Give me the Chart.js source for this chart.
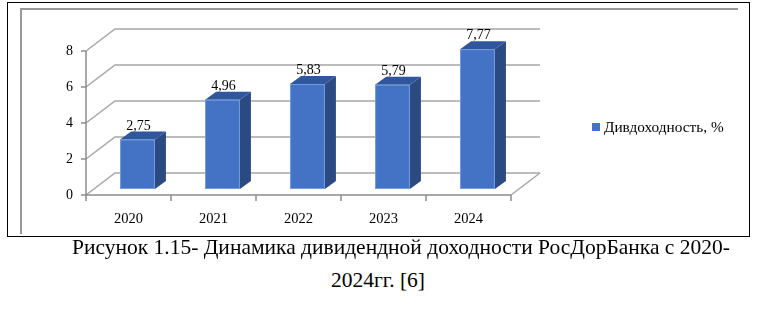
<!DOCTYPE html>
<html>
<head>
<meta charset="utf-8">
<script src="https://cdn.jsdelivr.net/npm/chart.js@4"></script>
<style>
  body { margin: 0; background: #fff; width: 765px; height: 311px; overflow: hidden; position: relative; }
  #outer { position: absolute; left: 7px; top: 2px; width: 743px; height: 235px; border: 1.5px solid #000; box-sizing: border-box; }
  #inner { position: absolute; left: 20px; top: 8px; width: 718px; height: 226px; border-top: 2px solid #999; border-left: 2px solid #999; box-sizing: border-box; }
  #wrap { position: absolute; left: 0; top: 0; width: 765px; height: 240px; }
  .cap { position: absolute; font-family: 'Liberation Serif', serif; font-size: 21.5px; color: #000; white-space: nowrap; line-height: 1; }
</style>
</head>
<body>
<div id="outer"></div>
<div id="inner"></div>
<div id="wrap"><canvas id="chart" width="765" height="240"></canvas></div>
<div class="cap" id="cap1" style="left:72px; top:237px;">Рисунок 1.15- Динамика дивидендной доходности РосДорБанка с 2020-</div>
<div class="cap" id="cap2" style="left:331px; top:270px;">2024гг. [6]</div>
<script>
const years = ['2020', '2021', '2022', '2023', '2024'];
const dividendYield = [2.75, 4.96, 5.83, 5.79, 7.77];
const seriesName = 'Дивдоходность, %';
const yTicks = [0, 2, 4, 6, 8];

// 3d offsets
const WALL_DX = 29, WALL_DY = -22;
const BAR_DX = 9, BAR_DY = -6;
const SIDE_DX = 11, SIDE_DY = -8;
const FONT = "'Liberation Serif', serif";

const fakeThreeD = {
    id: 'fakeThreeD',
    beforeDatasetsDraw(chart) {
        const ctx = chart.ctx;
        const area = chart.chartArea;
        const ys = chart.scales.y;
        const xs = chart.scales.x;
        ctx.save();
        ctx.strokeStyle = '#a6a6a6';
        ctx.lineWidth = 1.5;
        // back wall grid + left diagonals
        yTicks.forEach(v => {
            const y = ys.getPixelForValue(v);
            ctx.beginPath();
            ctx.moveTo(area.left, y);
            ctx.lineTo(area.left + WALL_DX, y + WALL_DY);
            ctx.lineTo(area.right + WALL_DX, y + WALL_DY);
            ctx.stroke();
        });
        // floor right side
        const y0 = ys.getPixelForValue(0);
        ctx.beginPath();
        ctx.moveTo(area.right, y0);
        ctx.lineTo(area.right + WALL_DX, y0 + WALL_DY);
        ctx.stroke();
        // axes
        ctx.strokeStyle = '#8c8c8c';
        ctx.beginPath();
        ctx.moveTo(area.left, ys.getPixelForValue(8));
        ctx.lineTo(area.left, y0);
        ctx.lineTo(area.right, y0);
        ctx.stroke();
        yTicks.forEach(v => {
            const y = ys.getPixelForValue(v);
            ctx.beginPath();
            ctx.moveTo(area.left - 5, y);
            ctx.lineTo(area.left, y);
            ctx.stroke();
        });
        const step = (area.right - area.left) / years.length;
        for (let i = 0; i <= years.length; i++) {
            const x = area.left + i * step;
            ctx.beginPath();
            ctx.moveTo(x, y0);
            ctx.lineTo(x, y0 + 6);
            ctx.stroke();
        }
        // tick labels
        ctx.fillStyle = '#000';
        ctx.font = '14px ' + FONT;
        ctx.textAlign = 'right';
        ctx.textBaseline = 'middle';
        yTicks.forEach(v => ctx.fillText(String(v), area.left - 13, ys.getPixelForValue(v)));
        ctx.textAlign = 'center';
        ctx.font = '14.5px ' + FONT;
        years.forEach((lab, i) => ctx.fillText(lab, xs.getPixelForValue(i), y0 + 24));
        ctx.restore();
    },
    afterDatasetsDraw(chart) {
        const ctx = chart.ctx;
        const meta = chart.getDatasetMeta(0);
        ctx.save();
        meta.data.forEach((bar, i) => {
            const w = bar.width;
            const l = bar.x - w / 2 + BAR_DX;
            const r = l + w;
            const t = bar.y + BAR_DY;
            const b = bar.base + BAR_DY;
            // side
            ctx.fillStyle = '#2b4a82';
            ctx.beginPath();
            ctx.moveTo(r, t);
            ctx.lineTo(r + SIDE_DX, t + SIDE_DY);
            ctx.lineTo(r + SIDE_DX, b + SIDE_DY);
            ctx.lineTo(r, b);
            ctx.closePath();
            ctx.fill();
            // top
            ctx.fillStyle = '#30569b';
            ctx.beginPath();
            ctx.moveTo(l, t);
            ctx.lineTo(l + SIDE_DX, t + SIDE_DY);
            ctx.lineTo(r + SIDE_DX, t + SIDE_DY);
            ctx.lineTo(r, t);
            ctx.closePath();
            ctx.fill();
            // front
            ctx.fillStyle = '#4472c4';
            ctx.fillRect(l, t, w, b - t);
            ctx.strokeStyle = 'rgba(120,160,225,0.9)';
            ctx.lineWidth = 1;
            ctx.strokeRect(l + 0.5, t + 0.5, w - 1, b - t - 1);
            // value label
            ctx.fillStyle = '#000';
            ctx.font = '14px ' + FONT;
            ctx.textAlign = 'center';
            ctx.textBaseline = 'alphabetic';
            ctx.fillText(dividendYield[i].toFixed(2).replace('.', ','), (l + r) / 2 + 1, t + SIDE_DY - 2);
        });
        ctx.restore();
    },
    afterDraw(chart) {
        const ctx = chart.ctx;
        ctx.save();
        ctx.fillStyle = '#4472c4';
        ctx.fillRect(592, 123, 8, 8);
        ctx.fillStyle = '#000';
        ctx.font = '15.3px ' + FONT;
        ctx.textAlign = 'left';
        ctx.textBaseline = 'middle';
        ctx.fillText(seriesName, 604, 128);
        ctx.restore();
    }
};

new Chart(document.getElementById('chart'), {
    type: 'bar',
    data: {
        labels: years,
        datasets: [{
            label: seriesName,
            data: dividendYield,
            backgroundColor: 'rgba(0,0,0,0)',
            borderWidth: 0,
            categoryPercentage: 1,
            barPercentage: 0.41
        }]
    },
    options: {
        responsive: false,
        animation: false,
        layout: { padding: { left: 86, top: 51, right: 254, bottom: 45 } },
        scales: {
            x: { display: false },
            y: { display: false, min: 0, max: 8, ticks: { stepSize: 2 } }
        },
        plugins: {
            legend: { display: false },
            tooltip: { enabled: false }
        }
    },
    plugins: [fakeThreeD]
});
</script>
</body>
</html>
